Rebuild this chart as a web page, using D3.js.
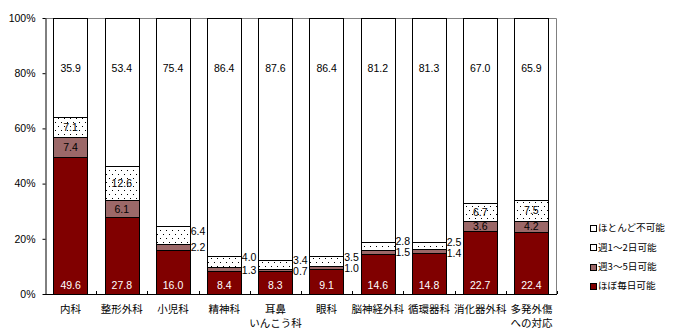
<!DOCTYPE html>
<html>
<head>
<meta charset="utf-8">
<script src="https://cdn.jsdelivr.net/npm/d3@7"></script>
<style>
  html, body { margin: 0; padding: 0; background: #fff; }
  svg { display: block; }
  .num { font-family: "Liberation Sans", Arial, sans-serif; font-size: 10.5px; }
  .jp { font-family: "Noto Sans CJK JP", sans-serif; }
</style>
</head>
<body>
<svg id="chart" width="677" height="334"></svg>
<script>
// 診療科ごとの対応可能頻度（%）
const categories = [
  ["内科"], ["整形外科"], ["小児科"], ["精神科"], ["耳鼻", "いんこう科"],
  ["眼科"], ["脳神経外科"], ["循環器科"], ["消化器外科"], ["多発外傷", "への対応"]
];
const seriesNames = ["ほぼ毎日可能", "週3～5日可能", "週1～2日可能", "ほとんど不可能"];
const daily    = [49.6, 27.8, 16.0, 8.4, 8.3, 9.1, 14.6, 14.8, 22.7, 22.4];
const days3to5 = [7.4, 6.1, 2.2, 1.3, 0.7, 1.0, 1.5, 1.4, 3.6, 4.2];
const days1to2 = [7.1, 12.6, 6.4, 4.0, 3.4, 3.5, 2.8, 2.5, 6.7, 7.5];
const rarely   = [35.9, 53.4, 75.4, 86.4, 87.6, 86.4, 81.2, 81.3, 67.0, 65.9];
const yTicks = [0, 20, 40, 60, 80, 100];

const seriesValues = [daily, days3to5, days1to2, rarely];
const fills = ["#800000", "#9c6868", "url(#dots)", "#ffffff"];
const legendFills = ["#ffffff", "#ffffff", "#9c6868", "#800000"];

const svg = d3.select("#chart");

// 点描パターン（週1～2日可能）
const pat = svg.append("defs").append("pattern")
  .attr("id", "dots").attr("patternUnits", "userSpaceOnUse")
  .attr("width", 6).attr("height", 8);
pat.append("rect").attr("width", 6).attr("height", 8).attr("fill", "#fff");
pat.append("rect").attr("x", 1).attr("y", 2).attr("width", 1).attr("height", 1).attr("fill", "#000");
pat.append("rect").attr("x", 4).attr("y", 6).attr("width", 1).attr("height", 1).attr("fill", "#000");

const plot = { left: 45, right: 557, top: 18, bottom: 294 };

const x = d3.scaleBand()
  .domain(d3.range(categories.length))
  .range([plot.left, plot.right])
  .paddingInner(0.33)
  .paddingOuter(0.165);

const y = d3.scaleLinear().domain([0, 100]).range([plot.bottom, plot.top]);

// 枠線（上・右）
svg.append("path")
  .attr("d", `M${plot.left},${plot.top + 0.5}H${plot.right - 0.5}V${plot.bottom}`)
  .attr("fill", "none").attr("stroke", "#808080").attr("stroke-width", 1);

// 積み上げデータ
const rows = categories.map((c, i) => {
  let acc = 0;
  return seriesValues.map((vals, s) => {
    const v = vals[i];
    const seg = { i, s, v, y0: acc, y1: acc + v };
    acc += v;
    return seg;
  });
});

const bars = svg.append("g");
rows.forEach(segs => {
  segs.forEach(seg => {
    const top = seg.s === 3 ? 100 : seg.y1;
    bars.append("rect")
      .attr("x", Math.round(x(seg.i)) + 0.5)
      .attr("y", Math.round(y(top)) + 0.5)
      .attr("width", Math.round(x.bandwidth()))
      .attr("height", Math.round(y(seg.y0)) - Math.round(y(top)))
      .attr("fill", fills[seg.s])
      .attr("stroke", "#000")
      .attr("stroke-width", 1);
  });
});

// 軸
const yAxis = d3.axisLeft(y).tickValues(yTicks).tickFormat(d => d + "%").tickSize(3).tickSizeOuter(0);
const gy = svg.append("g").attr("transform", `translate(${plot.left + 0.5},0)`).call(yAxis);
gy.select(".domain").attr("stroke", "#000");
gy.selectAll("line").attr("stroke", "#000");
gy.selectAll("text").attr("class", "num").attr("fill", "#000").attr("x", -10).style("font-size", "10.5px");

svg.append("line")
  .attr("x1", plot.left).attr("x2", plot.right)
  .attr("y1", plot.bottom + 0.5).attr("y2", plot.bottom + 0.5)
  .attr("stroke", "#000");
// カテゴリ境界の目盛
const step = x.step();
d3.range(1, categories.length + 1).forEach(k => {
  const xx = Math.round(plot.left + k * step) + 0.5;
  svg.append("line").attr("x1", xx).attr("x2", xx)
    .attr("y1", plot.bottom - 3).attr("y2", plot.bottom)
    .attr("stroke", "#000");
});

// カテゴリラベル
categories.forEach((lines, i) => {
  const t = svg.append("text").attr("class", "jp")
    .attr("text-anchor", "middle").style("font-size", "10.5px")
    .attr("x", x(i) + x.bandwidth() / 2).attr("y", 313);
  lines.forEach((ln, k) => {
    t.append("tspan").attr("x", x(i) + x.bandwidth() / 2).attr("dy", k === 0 ? 0 : 13.5).text(ln);
  });
});

// 数値ラベル
const labels = svg.append("g");
rows.forEach(segs => {
  const i = segs[0].i;
  const cx = x(i) + x.bandwidth() / 2;
  const right = x(i) + x.bandwidth();
  const outside = segs[1].v < 3;
  segs.forEach(seg => {
    const txt = seg.v.toFixed(1);
    let tx = cx, ty, anchor = "middle", color = "#000";
    if (seg.s === 0) {
      ty = y(0) - 9; color = "#fff";
    } else if (seg.s === 3) {
      ty = y(100) + 50;
    } else if (outside) {
      anchor = "start"; tx = right + 0.5;
      const dotY = y((segs[2].y0 + segs[2].y1) / 2) - 4;
      if (seg.s === 2) ty = dotY;
      else ty = Math.max(y((seg.y0 + seg.y1) / 2) + 1, dotY + 11);
    } else {
      ty = y((seg.y0 + seg.y1) / 2);
    }
    labels.append("text").attr("class", "num")
      .attr("x", tx).attr("y", ty).attr("dy", "0.35em")
      .attr("text-anchor", anchor).attr("fill", color)
      .text(txt);
  });
});

// 凡例
const legendOrder = [3, 2, 1, 0];
legendOrder.forEach((s, k) => {
  const ly = 228 + k * 19.3;
  svg.append("rect")
    .attr("x", 590.5).attr("y", Math.round(ly - 3) + 0.5)
    .attr("width", 6).attr("height", 6)
    .attr("fill", legendFills[k]).attr("stroke", "#000");
  svg.append("text").attr("class", "jp")
    .attr("x", 598).attr("y", ly).attr("dy", "0.35em")
    .style("font-size", "9.6px")
    .text(seriesNames[s]);
});
</script>
</body>
</html>
